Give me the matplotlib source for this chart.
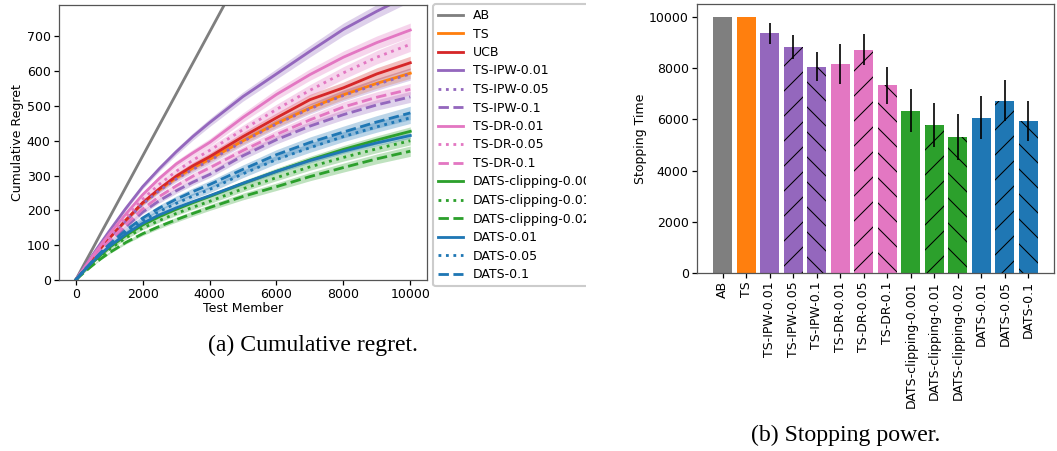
import matplotlib
matplotlib.use("Agg")
import matplotlib.pyplot as plt
from matplotlib.patches import Rectangle
import numpy as np

# ---------------- data ----------------
test_member = [0, 250, 500, 750, 1000, 1500, 2000, 2500, 3000, 3500, 4000,
               5000, 6000, 7000, 8000, 9000, 10000]

regret_AB = [0, 45, 89, 134, 178, 267, 356, 445, 534, 623, 712, 890, 1068, 1246, 1424, 1602, 1780]
regret_TS = [0, 32, 63, 92, 120, 172, 221, 260, 294, 322, 347, 400, 450, 494, 532, 565, 594]
regret_UCB = [0, 32, 63, 92, 120, 172, 222, 262, 298, 328, 354, 412, 466, 518, 552, 592, 624]
regret_TS_IPW_001 = [0, 36, 71, 106, 140, 206, 268, 320, 368, 412, 452, 527, 592, 657, 720, 772, 820]
regret_TS_IPW_005 = [0, 31, 62, 90, 118, 170, 218, 257, 290, 318, 343, 398, 448, 492, 530, 562, 592]
regret_TS_IPW_01 = [0, 29, 57, 83, 108, 153, 195, 228, 256, 281, 303, 357, 403, 442, 475, 503, 526]
regret_TS_DR_001 = [0, 34, 68, 100, 131, 190, 245, 292, 333, 365, 395, 467, 533, 590, 640, 682, 718]
regret_TS_DR_005 = [0, 33, 65, 96, 125, 180, 232, 275, 312, 344, 372, 432, 490, 545, 595, 640, 677]
regret_TS_DR_01 = [0, 30, 59, 86, 112, 160, 204, 240, 270, 298, 322, 372, 418, 460, 497, 525, 548]
regret_DATSc_0001 = [0, 26, 50, 72, 93, 128, 158, 182, 203, 222, 240, 277, 312, 345, 375, 402, 427]
regret_DATSc_001 = [0, 25, 48, 69, 88, 121, 149, 171, 191, 209, 226, 262, 294, 325, 352, 377, 400]
regret_DATSc_002 = [0, 22, 42, 61, 78, 108, 133, 154, 173, 191, 208, 240, 268, 297, 323, 348, 370]
regret_DATS_001 = [0, 27, 52, 75, 96, 132, 163, 187, 207, 225, 242, 278, 312, 343, 370, 394, 415]
regret_DATS_005 = [0, 27, 53, 77, 99, 137, 170, 197, 220, 241, 260, 305, 346, 380, 412, 440, 466]
regret_DATS_01 = [0, 28, 54, 79, 102, 143, 178, 207, 232, 254, 274, 318, 360, 395, 425, 454, 480]

# relative half-width of the shaded band for each series
band_rel = [0.006, 0.025, 0.03, 0.025, 0.03, 0.03, 0.028, 0.03, 0.03,
            0.03, 0.03, 0.04, 0.02, 0.035, 0.04]

series_names = ["AB", "TS", "UCB", "TS-IPW-0.01", "TS-IPW-0.05", "TS-IPW-0.1",
                "TS-DR-0.01", "TS-DR-0.05", "TS-DR-0.1",
                "DATS-clipping-0.001", "DATS-clipping-0.01", "DATS-clipping-0.02",
                "DATS-0.01", "DATS-0.05", "DATS-0.1"]
series_values = [regret_AB, regret_TS, regret_UCB,
                 regret_TS_IPW_001, regret_TS_IPW_005, regret_TS_IPW_01,
                 regret_TS_DR_001, regret_TS_DR_005, regret_TS_DR_01,
                 regret_DATSc_0001, regret_DATSc_001, regret_DATSc_002,
                 regret_DATS_001, regret_DATS_005, regret_DATS_01]

bar_labels = ["AB", "TS", "TS-IPW-0.01", "TS-IPW-0.05", "TS-IPW-0.1",
              "TS-DR-0.01", "TS-DR-0.05", "TS-DR-0.1",
              "DATS-clipping-0.001", "DATS-clipping-0.01", "DATS-clipping-0.02",
              "DATS-0.01", "DATS-0.05", "DATS-0.1"]
stopping_time = [10000, 10000, 9350, 8830, 8060, 8160, 8720, 7320,
                 6340, 5770, 5300, 6060, 6730, 5940]
stopping_err = [0, 0, 420, 460, 570, 780, 600, 720,
                850, 870, 890, 840, 800, 790]

# ---------------- styles ----------------
GREY, ORANGE, RED = "#7f7f7f", "#ff7f0e", "#d62728"
PURPLE, PINK, GREEN, BLUE = "#9467bd", "#e377c2", "#2ca02c", "#1f77b4"
line_colors = [GREY, ORANGE, RED, PURPLE, PURPLE, PURPLE, PINK, PINK, PINK,
               GREEN, GREEN, GREEN, BLUE, BLUE, BLUE]
line_styles = ["-", "-", "-", "-", ":", "--", "-", ":", "--",
               "-", ":", "--", "-", ":", "--"]
bar_colors = [GREY, ORANGE, PURPLE, PURPLE, PURPLE, PINK, PINK, PINK,
              GREEN, GREEN, GREEN, BLUE, BLUE, BLUE]
bar_hatches = ["", "", "", "//", "\\\\", "", "//", "\\\\", "", "//", "\\\\",
               "", "//", "\\\\"]

plt.rcParams["font.family"] = ["DejaVu Sans"]
plt.rcParams["hatch.linewidth"] = 0.5
FS = 6.0
LW = 1.35

W, H, DPI = 1057, 451, 150
fig = plt.figure(figsize=(W / DPI, H / DPI), dpi=DPI)

def ax_rect(l, r, t, b):
    return [l / W, 1 - b / H, (r - l) / W, (b - t) / H]

# ---------------- (a) cumulative regret ----------------
ax1 = fig.add_axes(ax_rect(59, 427, 5, 280))
x = np.array(test_member)
handles = []
for name, vals, c, ls, br in zip(series_names, series_values, line_colors,
                                 line_styles, band_rel):
    v = np.array(vals, dtype=float)
    ax1.fill_between(x, v * (1 - br), v * (1 + br), color=c, alpha=0.3,
                     linewidth=0)
    h, = ax1.plot(x, v, color=c, linestyle=ls, linewidth=LW, label=name)
    handles.append(h)

ax1.set_xlim(-500, 10500)
ax1.set_ylim(0, 790)
ax1.set_xticks([0, 2000, 4000, 6000, 8000, 10000])
ax1.set_yticks(range(0, 701, 100))
ax1.tick_params(labelsize=FS, width=0.6, length=2.5, pad=1.5)
ax1.set_xlabel("Test Member", fontsize=FS, labelpad=0.5)
ax1.set_ylabel("Cumulative Regret", fontsize=FS, labelpad=1.5)
for s in ax1.spines.values():
    s.set_linewidth(0.6)
    s.set_color("#555555")

leg = fig.legend(handles=handles, loc="upper left",
                 bbox_to_anchor=(433 / W, 1 - 4 / H), borderaxespad=0,
                 fontsize=FS, handlelength=2.0, labelspacing=0.44,
                 borderpad=0.4, handletextpad=0.8, framealpha=1,
                 edgecolor="#cccccc", fancybox=True)
leg.set_zorder(5)
# the left sub-figure is cropped at its right edge, cutting the legend
fig.patches.append(Rectangle((586 / W, 1 - 300 / H), 44 / W, 300 / H,
                             transform=fig.transFigure, facecolor="white",
                             edgecolor="none", zorder=10))

fig.text(313 / W, 1 - 345 / H, "(a) Cumulative regret.",
         family="Liberation Serif", fontsize=11.4, ha="center", va="center")

# ---------------- (b) stopping power ----------------
ax2 = fig.add_axes(ax_rect(697, 1054, 4, 273))
pos = np.arange(len(bar_labels))
bars = ax2.bar(pos, stopping_time, width=0.8, color=bar_colors,
               yerr=stopping_err,
               error_kw=dict(ecolor="black", elinewidth=0.8, capsize=0))
for b, hp in zip(bars, bar_hatches):
    if hp:
        b.set_hatch(hp)
ax2.set_xticks(pos)
ax2.set_xticklabels(bar_labels, rotation=90)
ax2.set_yticks(range(0, 10001, 2000))
ax2.tick_params(labelsize=FS, width=0.6, length=2.5, pad=1.5)
ax2.set_ylabel("Stopping Time", fontsize=FS, labelpad=0.8)
for s in ax2.spines.values():
    s.set_linewidth(0.6)
    s.set_color("#555555")

fig.text(846 / W, 1 - 435 / H, "(b) Stopping power.",
         family="Liberation Serif", fontsize=11.4, ha="center", va="center")

fig.savefig("out.png", dpi=DPI)
